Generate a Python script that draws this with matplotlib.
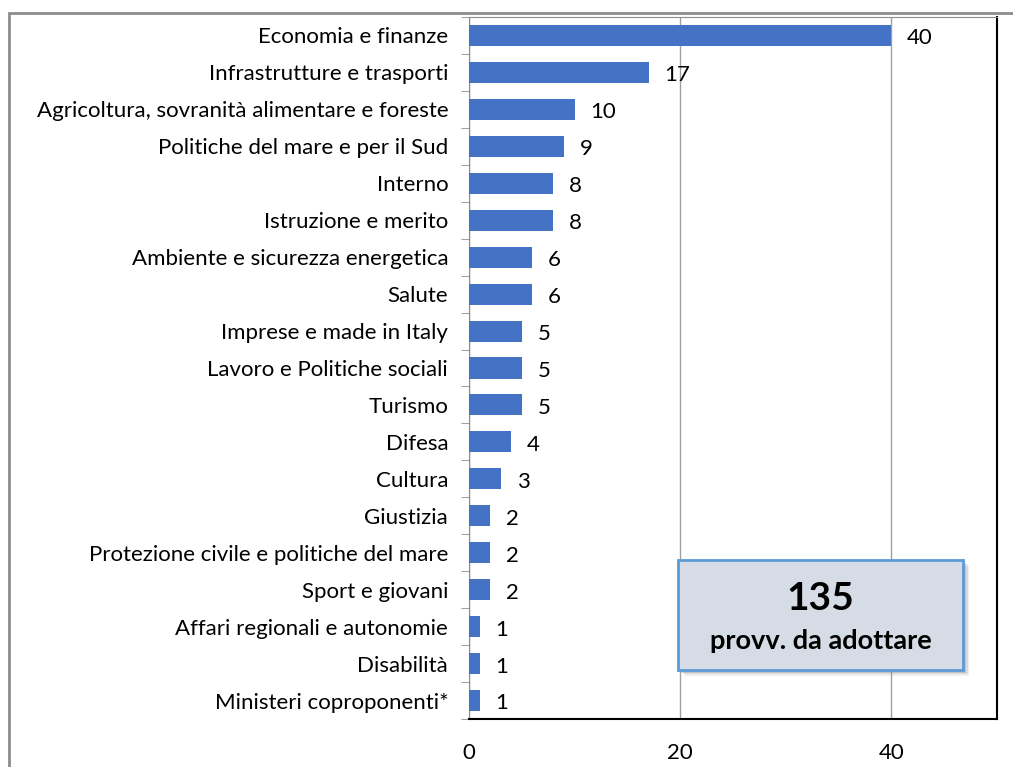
import matplotlib
matplotlib.use('Agg')
from matplotlib import pyplot as plt
from matplotlib.patches import Rectangle
import numpy as np

categorie = [
    "Economia e finanze",
    "Infrastrutture e trasporti",
    "Agricoltura, sovranità alimentare e foreste",
    "Politiche del mare e per il Sud",
    "Interno",
    "Istruzione e merito",
    "Ambiente e sicurezza energetica",
    "Salute",
    "Imprese e made in Italy",
    "Lavoro e Politiche sociali",
    "Turismo",
    "Difesa",
    "Cultura",
    "Giustizia",
    "Protezione civile e politiche del mare",
    "Sport e giovani",
    "Affari regionali e autonomie",
    "Disabilità",
    "Ministeri coproponenti*",
]
valori = [40, 17, 10, 9, 8, 8, 6, 6, 5, 5, 5, 4, 3, 2, 2, 2, 1, 1, 1]
x_ticks = [0, 20, 40]
totale = "135"
sottotitolo = "provv. da adottare"

plt.rcParams['font.family'] = ['Lato', 'DejaVu Sans']

fig = plt.figure(figsize=(10.13, 7.67), dpi=100)
ax = fig.add_axes([469 / 1013, 1 - 719 / 767, (997 - 469) / 1013, (719 - 17) / 767])

# cornice esterna (tagliata a destra e in basso)
fig.patches.append(Rectangle((9 / 1013, -0.1), 1.2, 1 - 13 / 767 + 0.1,
                             transform=fig.transFigure, fill=False,
                             edgecolor="#8c8c8c", linewidth=2))

y = np.arange(len(categorie))
ax.barh(y, valori, height=0.57, color="#4472C4", zorder=3)
for yi, v in zip(y, valori):
    ax.text(v + 1.5, yi + 0.08, str(v), va="center", ha="left", fontsize=16, zorder=4)

ax.set_ylim(len(categorie) - 0.5, -0.5)
ax.set_xlim(0, 50)
ax.set_yticks(y)
ax.set_yticklabels(categorie, fontsize=16)
ax.tick_params(axis="y", length=0, pad=15)
ax.set_yticks(np.arange(len(categorie) + 1) - 0.5, minor=True)
ax.tick_params(axis="y", which="minor", length=6, color="#8c8c8c")
ax.set_xticks(x_ticks)
ax.set_xticklabels([str(t) for t in x_ticks], fontsize=16)
ax.tick_params(axis="x", length=0, pad=17)
ax.xaxis.grid(True, color="#a0a0a0", linewidth=1, zorder=0)

ax.spines["left"].set_color("#8c8c8c")
ax.spines["top"].set_color("#8c8c8c")
ax.spines["right"].set_color("black")
ax.spines["bottom"].set_color("black")
ax.spines["right"].set_linewidth(1.5)
ax.spines["bottom"].set_linewidth(1.5)

# riquadro totale con ombra
bx, by, bw, bh = 678 / 1013, 1 - 670 / 767, 285 / 1013, 110 / 767
for k, a in enumerate([0.12, 0.18, 0.25]):
    d = 0.006 - k * 0.0015
    fig.patches.append(Rectangle((bx + d, by - d * 1.3), bw, bh, transform=fig.transFigure,
                                 facecolor="#808080", edgecolor="none", alpha=a, zorder=5))
fig.patches.append(Rectangle((bx, by), bw, bh, transform=fig.transFigure,
                             facecolor="#D6DCE5", edgecolor="#5B9BD5", linewidth=2, zorder=6))
fig.text(bx + bw / 2, 1 - 598 / 767, totale, ha="center", va="center",
         fontsize=28, fontweight="bold", zorder=7)
fig.text(bx + bw / 2, 1 - 641 / 767, sottotitolo, ha="center", va="center",
         fontsize=19.5, fontweight="bold", zorder=7)

plt.savefig("out.png", dpi=100)
